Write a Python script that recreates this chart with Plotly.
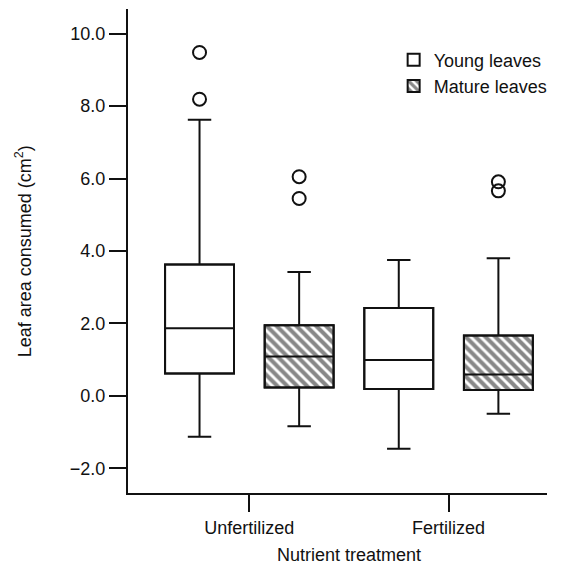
import plotly.graph_objects as go

# ---- data ----
treatments = ["Unfertilized", "Fertilized"]
series_names = ["Young leaves", "Mature leaves"]

young_q1 = [0.62, 0.19]
young_median = [1.87, 0.99]
young_q3 = [3.63, 2.43]
young_low = [-1.13, -1.46]
young_high = [7.62, 3.75]
young_outliers = [[9.48, 8.19], []]

mature_q1 = [0.23, 0.16]
mature_median = [1.09, 0.59]
mature_q3 = [1.95, 1.67]
mature_low = [-0.84, -0.49]
mature_high = [3.42, 3.80]
mature_outliers = [[6.05, 5.45], [5.91, 5.66]]

# ---- style ----
INK = "#111111"
FONT = "Liberation Sans, Arial, Helvetica, sans-serif"
OFFSET = 0.25
BOXW = 0.346

fig = go.Figure()

series = [
    (series_names[0], young_q1, young_median, young_q3, young_low, young_high, young_outliers, -OFFSET, ""),
    (series_names[1], mature_q1, mature_median, mature_q3, mature_low, mature_high, mature_outliers, OFFSET, "\\"),
]

for name, q1, med, q3, lo, hi, outl, off, shape in series:
    xs = [i + off for i in range(len(treatments))]
    # box body (hatched or plain) via bar
    fig.add_trace(go.Bar(
        x=xs, y=[b - a for a, b in zip(q1, q3)], base=q1, width=BOXW,
        name=name, showlegend=True, hoverinfo="skip",
        marker=dict(color="white", line=dict(color=INK, width=2),
                    pattern=dict(shape=shape, fgcolor=INK, bgcolor="white",
                                 size=7, solidity=0.58)),
    ))
    # box outline, median, whiskers
    fig.add_trace(go.Box(
        x=xs, q1=q1, median=med, q3=q3, lowerfence=lo, upperfence=hi,
        width=BOXW, whiskerwidth=0.34, fillcolor="rgba(0,0,0,0)",
        line=dict(color=INK, width=2), showlegend=False, boxpoints=False,
        hoverinfo="skip",
    ))
    # outliers
    ox, oy = [], []
    for i, vals in enumerate(outl):
        for v in vals:
            ox.append(i + off)
            oy.append(v)
    fig.add_trace(go.Scatter(
        x=ox, y=oy, mode="markers", showlegend=False, hoverinfo="skip",
        marker=dict(symbol="circle-open", size=13, color=INK, line=dict(width=2, color=INK)),
    ))

# page body has an 8px default margin, so the figure is sized to fit the window
fig.update_layout(
    width=555, height=557,
    margin=dict(l=120, r=16, t=1, b=72, autoexpand=False),
    paper_bgcolor="white", plot_bgcolor="white",
    font=dict(family=FONT, size=18, color=INK),
    barmode="overlay",
    legend=dict(x=0.634, y=0.933, xanchor="left", yanchor="top",
                bgcolor="rgba(0,0,0,0)", font=dict(size=18),
                tracegroupgap=0),
    xaxis=dict(
        range=[-0.609, 1.494], tickvals=list(range(len(treatments))), ticktext=treatments,
        showgrid=False, zeroline=False, showline=True, linecolor=INK, linewidth=2,
        ticks="outside", ticklen=17, tickwidth=2, tickcolor=INK, automargin=False,
    ),
    yaxis=dict(
        range=[-2.68, 10.68], tickvals=[-2, 0, 2, 4, 6, 8, 10], tickformat=".1f",
        showgrid=False, zeroline=False, showline=True, linecolor=INK, linewidth=2,
        ticks="outside", ticklen=17, tickwidth=2, tickcolor=INK, automargin=False,
    ),
    annotations=[
        dict(text="Nutrient treatment", xref="paper", yref="paper",
             x=0.527, y=-0.128, xanchor="center", yanchor="middle",
             showarrow=False, font=dict(size=18)),
        dict(text="Leaf area consumed (cm<sup>2</sup>)", xref="paper", yref="paper",
             x=-0.25, y=0.5, xanchor="center", yanchor="middle", textangle=-90,
             showarrow=False, font=dict(size=18)),
    ],
)

fig.write_html("out.html")
